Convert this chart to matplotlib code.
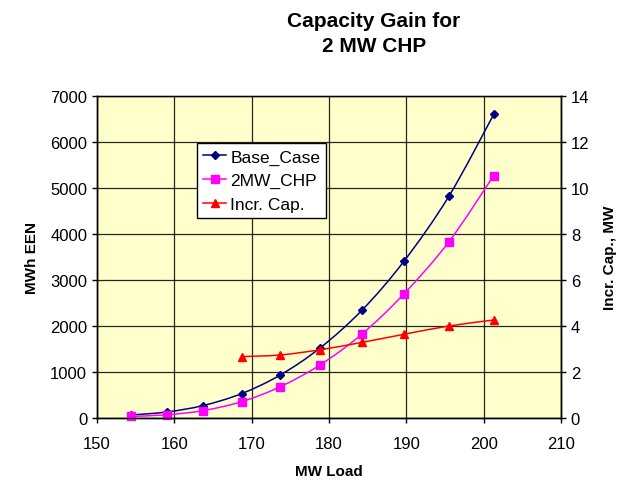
import matplotlib
matplotlib.use("Agg")
import matplotlib.pyplot as plt
from matplotlib.path import Path
from matplotlib.patches import PathPatch
from matplotlib.lines import Line2D
import numpy as np

plt.rcParams['font.family'] = ['Liberation Sans', 'DejaVu Sans']

# MW load points
load = [154.4, 159.0, 163.7, 168.7, 173.7, 178.9, 184.3, 189.7, 195.5, 201.3]
# Expected energy not served (MWh)
base_case = [65, 130, 270, 530, 935, 1530, 2350, 3410, 4820, 6600]
chp_2mw = [35, 70, 160, 355, 680, 1160, 1830, 2700, 3830, 5270]
# Incremental capacity (MW), defined from the 4th load point onward
incr_load = [168.7, 173.7, 178.9, 184.3, 189.7, 195.5, 201.3]
incr_cap = [2.67, 2.74, 2.97, 3.29, 3.64, 4.00, 4.26]

x_ticks = [150, 160, 170, 180, 190, 200, 210]
y_ticks = [0, 1000, 2000, 3000, 4000, 5000, 6000, 7000]
y2_ticks = [0, 2, 4, 6, 8, 10, 12, 14]


def smooth_path(xs, ys):
    """Catmull-Rom style smoothed polyline as a cubic Bezier path."""
    pts = np.column_stack([xs, ys]).astype(float)
    n = len(pts)
    verts = [pts[0]]
    codes = [Path.MOVETO]
    for i in range(n - 1):
        p0 = pts[i - 1] if i > 0 else pts[i]
        p1 = pts[i]
        p2 = pts[i + 1]
        p3 = pts[i + 2] if i + 2 < n else pts[i + 1]
        c1 = p1 + (p2 - p0) / 6.0
        c2 = p2 - (p3 - p1) / 6.0
        verts += [c1, c2, p2]
        codes += [Path.CURVE4] * 3
    return Path(verts, codes)


W, H = 618, 481
fig = plt.figure(figsize=(W / 100, H / 100), dpi=100)
fig.patch.set_facecolor('white')
left, right, top, bottom = 97, 561, 97, 419
ax = fig.add_axes([left / W, 1 - bottom / H, (right - left) / W, (bottom - top) / H])
ax.set_facecolor('#FFFFCC')

ax.set_xlim(150, 210)
ax.set_ylim(0, 7000)
ax.set_xticks(x_ticks)
ax.set_yticks(y_ticks)
ax.grid(True, color='black', linewidth=0.9, alpha=0.85)
ax.set_axisbelow(True)

ax2 = ax.twinx()
ax2.set_ylim(0, 14)
ax2.set_yticks(y2_ticks)

series = [
    (ax, load, base_case, '#000080', 'D', 4, 'Base_Case'),
    (ax, load, chp_2mw, '#FF00FF', 's', 6, '2MW_CHP'),
    (ax2, incr_load, incr_cap, '#FF0000', '^', 6, 'Incr. Cap.'),
]
handles = []
for a, xs, ys, col, mk, ms, name in series:
    a.add_patch(PathPatch(smooth_path(xs, ys), facecolor='none', edgecolor=col,
                          linewidth=1.1, transform=a.transData, zorder=3))
    a.plot(xs, ys, linestyle='none', marker=mk, markersize=ms, color=col,
           markeredgecolor=col, zorder=4, clip_on=False)
    handles.append(Line2D([], [], color=col, linewidth=1.1, marker=mk,
                          markersize=ms, markeredgecolor=col, label=name))

for a in (ax, ax2):
    for s in a.spines.values():
        s.set_color('black')
        s.set_linewidth(1.0)
    a.tick_params(direction='out', length=3.6, width=1, labelsize=12, colors='black')
ax.tick_params(axis='x', pad=9.5)
ax.spines['top'].set_color('#808080')

ax.set_xlabel('MW Load', fontsize=11, fontweight='bold', labelpad=9)
ax.set_ylabel('MWh EEN', fontsize=11, fontweight='bold', labelpad=8)
ax2.set_ylabel('Incr. Cap., MW', fontsize=11, fontweight='bold', labelpad=10)

fig.text(374 / W, 1 - 34 / H, 'Capacity Gain for\n2 MW CHP', ha='center', va='center',
         fontsize=15, fontweight='bold', linespacing=1.45)

leg = ax2.legend(handles=handles, loc='upper left',
                 bbox_to_anchor=(197 / W, 1 - 144 / H), bbox_transform=fig.transFigure,
                 fontsize=12.5, frameon=True, fancybox=False, framealpha=1,
                 edgecolor='black', borderpad=0.36, labelspacing=0.49,
                 handlelength=1.3, handletextpad=0.25, borderaxespad=0)
leg.get_frame().set_linewidth(1.0)

fig.savefig('out.png', dpi=100, facecolor='white')
